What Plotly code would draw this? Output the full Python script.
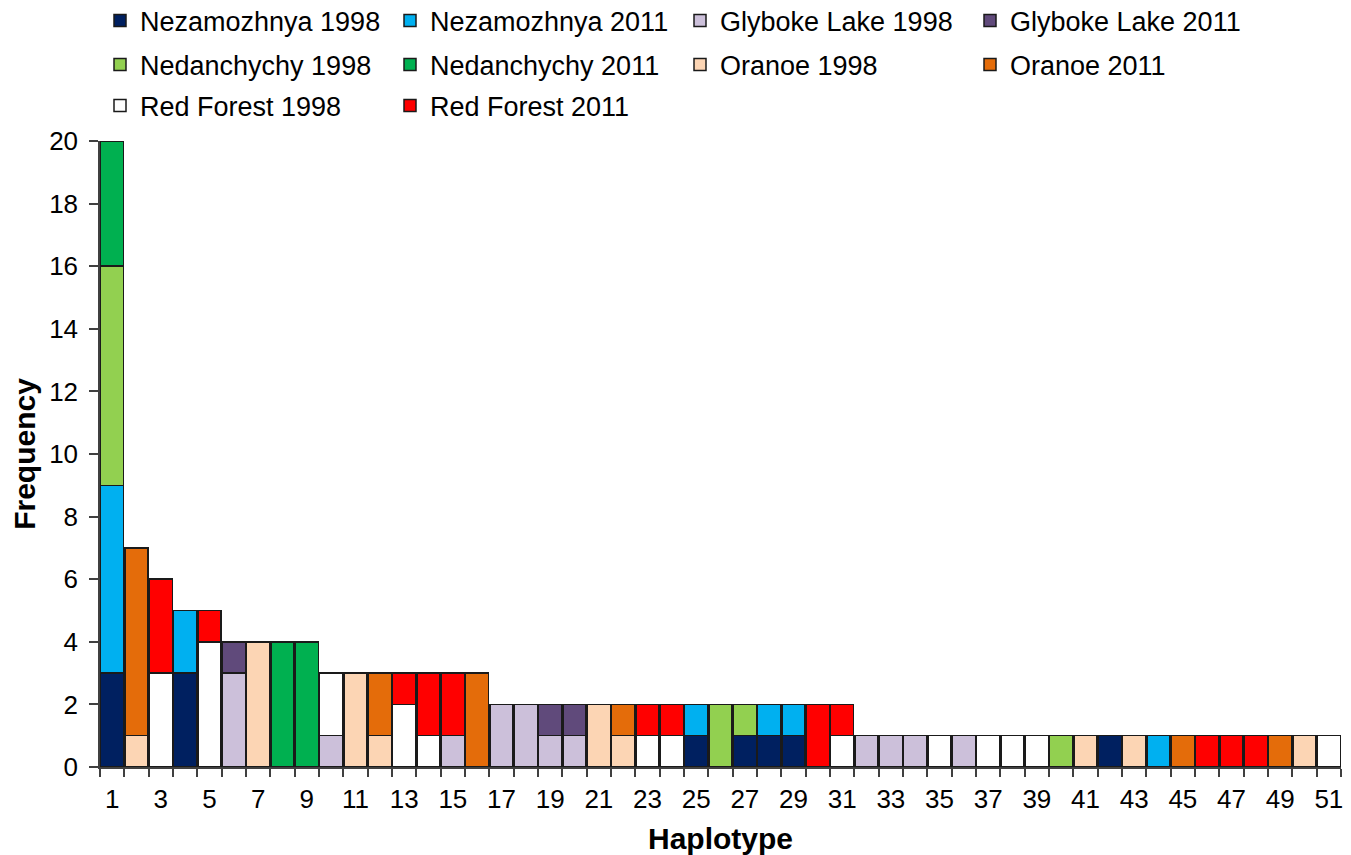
import plotly.graph_objects as go

haplotypes = [str(i) for i in range(1, 52)]

series_names = [
    "Nezamozhnya 1998", "Nezamozhnya 2011",
    "Glyboke Lake 1998", "Glyboke Lake 2011",
    "Nedanchychy 1998", "Nedanchychy 2011",
    "Oranoe 1998", "Oranoe 2011",
    "Red Forest 1998", "Red Forest 2011",
]

#                 1  2  3  4  5  6  7  8  9 10 11 12 13 14 15 16 17 18 19 20 21 22 23 24 25 26 27 28 29 30 31 32 33 34 35 36 37 38 39 40 41 42 43 44 45 46 47 48 49 50 51
nezamozhnya_1998 = [3, 0, 0, 3, 0, 0, 0, 0, 0, 0, 0, 0, 0, 0, 0, 0, 0, 0, 0, 0, 0, 0, 0, 0, 1, 0, 1, 1, 1, 0, 0, 0, 0, 0, 0, 0, 0, 0, 0, 0, 0, 1, 0, 0, 0, 0, 0, 0, 0, 0, 0]
nezamozhnya_2011 = [6, 0, 0, 2, 0, 0, 0, 0, 0, 0, 0, 0, 0, 0, 0, 0, 0, 0, 0, 0, 0, 0, 0, 0, 1, 0, 0, 1, 1, 0, 0, 0, 0, 0, 0, 0, 0, 0, 0, 0, 0, 0, 0, 1, 0, 0, 0, 0, 0, 0, 0]
glyboke_1998     = [0, 0, 0, 0, 0, 3, 0, 0, 0, 1, 0, 0, 0, 0, 1, 0, 2, 2, 1, 1, 0, 0, 0, 0, 0, 0, 0, 0, 0, 0, 0, 1, 1, 1, 0, 1, 0, 0, 0, 0, 0, 0, 0, 0, 0, 0, 0, 0, 0, 0, 0]
glyboke_2011     = [0, 0, 0, 0, 0, 1, 0, 0, 0, 0, 0, 0, 0, 0, 0, 0, 0, 0, 1, 1, 0, 0, 0, 0, 0, 0, 0, 0, 0, 0, 0, 0, 0, 0, 0, 0, 0, 0, 0, 0, 0, 0, 0, 0, 0, 0, 0, 0, 0, 0, 0]
nedanchychy_1998 = [7, 0, 0, 0, 0, 0, 0, 0, 0, 0, 0, 0, 0, 0, 0, 0, 0, 0, 0, 0, 0, 0, 0, 0, 0, 2, 1, 0, 0, 0, 0, 0, 0, 0, 0, 0, 0, 0, 0, 1, 0, 0, 0, 0, 0, 0, 0, 0, 0, 0, 0]
nedanchychy_2011 = [4, 0, 0, 0, 0, 0, 0, 4, 4, 0, 0, 0, 0, 0, 0, 0, 0, 0, 0, 0, 0, 0, 0, 0, 0, 0, 0, 0, 0, 0, 0, 0, 0, 0, 0, 0, 0, 0, 0, 0, 0, 0, 0, 0, 0, 0, 0, 0, 0, 0, 0]
oranoe_1998      = [0, 1, 0, 0, 0, 0, 4, 0, 0, 0, 3, 1, 0, 0, 0, 0, 0, 0, 0, 0, 2, 1, 0, 0, 0, 0, 0, 0, 0, 0, 0, 0, 0, 0, 0, 0, 0, 0, 0, 0, 1, 0, 1, 0, 0, 0, 0, 0, 0, 1, 0]
oranoe_2011      = [0, 6, 0, 0, 0, 0, 0, 0, 0, 0, 0, 2, 0, 0, 0, 3, 0, 0, 0, 0, 0, 1, 0, 0, 0, 0, 0, 0, 0, 0, 0, 0, 0, 0, 0, 0, 0, 0, 0, 0, 0, 0, 0, 0, 1, 0, 0, 0, 1, 0, 0]
red_forest_1998  = [0, 0, 3, 0, 4, 0, 0, 0, 0, 2, 0, 0, 2, 1, 0, 0, 0, 0, 0, 0, 0, 0, 1, 1, 0, 0, 0, 0, 0, 0, 1, 0, 0, 0, 1, 0, 1, 1, 1, 0, 0, 0, 0, 0, 0, 0, 0, 0, 0, 0, 1]
red_forest_2011  = [0, 0, 3, 0, 1, 0, 0, 0, 0, 0, 0, 0, 1, 2, 2, 0, 0, 0, 0, 0, 0, 0, 1, 1, 0, 0, 0, 0, 0, 2, 1, 0, 0, 0, 0, 0, 0, 0, 0, 0, 0, 0, 0, 0, 0, 1, 1, 1, 0, 0, 0]

series_values = [
    nezamozhnya_1998, nezamozhnya_2011,
    glyboke_1998, glyboke_2011,
    nedanchychy_1998, nedanchychy_2011,
    oranoe_1998, oranoe_2011,
    red_forest_1998, red_forest_2011,
]

colors = ["#002060", "#00B0F0", "#CCC0DA", "#604A7B", "#92D050",
          "#00B050", "#FCD5B4", "#E46C0A", "#FFFFFF", "#FF0000"]
legend_ids = ["legend", "legend", "legend", "legend",
              "legend2", "legend2", "legend2", "legend2",
              "legend3", "legend3"]

tick_labels = [h if int(h) % 2 == 1 else "" for h in haplotypes]

FONT = "Arial, Liberation Sans, sans-serif"
W, H = 1343, 847

fig = go.Figure()
for name, vals, col, lg in zip(series_names, series_values, colors, legend_ids):
    fig.add_trace(go.Bar(
        x=haplotypes, y=vals, name=name, legend=lg,
        marker=dict(color=col, line=dict(color="#1a1a1a", width=1.5)),
    ))

leg_common = dict(orientation="h", xref="container", yref="container",
                  xanchor="left", yanchor="middle",
                  entrywidth=245, entrywidthmode="pixels",
                  font=dict(family=FONT, size=27, color="#000000"),
                  bgcolor="rgba(0,0,0,0)", traceorder="normal")

fig.update_layout(
    width=W, height=H,
    barmode="stack", bargap=0.05,
    plot_bgcolor="white", paper_bgcolor="white",
    margin=dict(l=92, r=10, t=133, b=88, autoexpand=False),
    font=dict(family=FONT, size=26, color="#000000"),
    legend=dict(x=92 / W, y=1 - 13 / H, **leg_common),
    legend2=dict(x=92 / W, y=1 - 57 / H, **leg_common),
    legend3=dict(x=92 / W, y=1 - 98 / H, **leg_common),
    xaxis=dict(
        type="category", tickmode="array", tickvals=haplotypes, ticktext=tick_labels,
        tickson="boundaries", ticks="outside", ticklen=8, tickwidth=1.5, tickcolor="#404040",
        showline=True, linecolor="#404040", linewidth=1.5, showgrid=False,
        tickfont=dict(size=26), tickangle=0, automargin=False, ticklabelstandoff=8,
        title=dict(text="<b>Haplotype</b>", font=dict(size=30), standoff=16),
    ),
    yaxis=dict(
        range=[0, 20], dtick=2, tick0=0, ticks="outside", ticklen=9, tickwidth=1.5,
        tickcolor="#404040", showline=True, linecolor="#404040", linewidth=1.5,
        showgrid=False, zeroline=False, tickfont=dict(size=26), automargin=False,
        ticklabelstandoff=6,
        title=dict(text="<b>Frequency</b>", font=dict(size=30), standoff=5),
    ),
)

fig.write_html("out.html")
